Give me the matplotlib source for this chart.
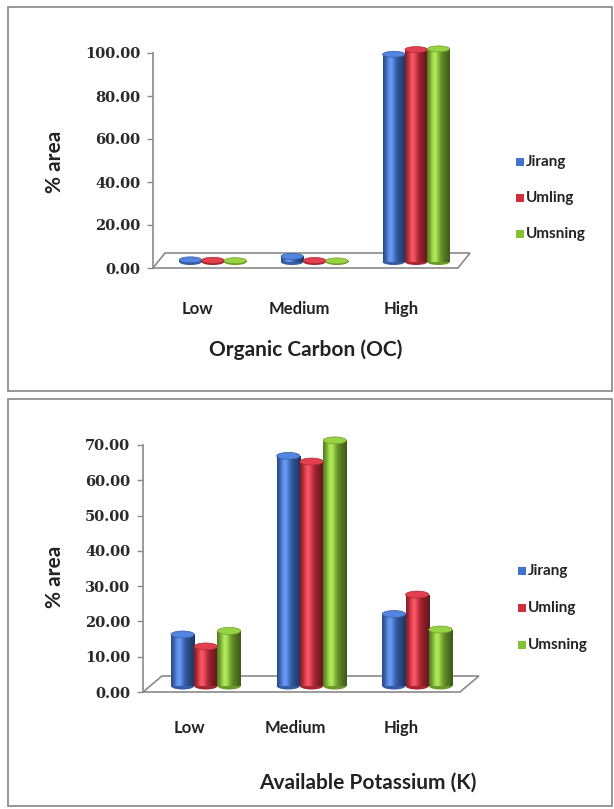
import numpy as np
import matplotlib
matplotlib.use("Agg")
import matplotlib.pyplot as plt
from matplotlib.patches import Rectangle, Ellipse, Polygon
from matplotlib.transforms import ScaledTranslation

# ---------------- data ----------------
categories = ["Low", "Medium", "High"]
series_names = ["Jirang", "Umling", "Umsning"]
oc_jirang = [1.0, 2.6, 96.6]
oc_umling = [0.8, 0.7, 98.8]
oc_umsning = [0.6, 0.5, 99.1]
k_jirang = [14.6, 65.2, 20.4]
k_umling = [11.2, 63.6, 25.9]
k_umsning = [15.6, 69.6, 16.0]
oc_yticks = [0, 20, 40, 60, 80, 100]
k_yticks = [0, 10, 20, 30, 40, 50, 60, 70]
oc_title = "Organic Carbon (OC)"
k_title = "Available Potassium (K)"
ylabel = "% area"

colors = [np.array([66, 114, 204]) / 255.0,
          np.array([208, 48, 62]) / 255.0,
          np.array([134, 192, 52]) / 255.0]

W, H = 614, 809
fig = plt.figure(figsize=(W / 100, H / 100), dpi=100)
fig.patch.set_facecolor("white")

SANS = "Lato"
SERIF = "DejaVu Serif"


def fx(x):
    return x / W


def fy(y):
    return 1 - y / H


# panel borders
for (x0, y0, x1, y1) in [(8, 7, 612, 391), (8, 399, 612, 806)]:
    fig.patches.append(Rectangle((fx(x0), fy(y1)), fx(x1) - fx(x0), fy(y0) - fy(y1),
                                 transform=fig.transFigure, fill=False,
                                 edgecolor="#8f8f8f", lw=1.3))


def gradient(c, n=64):
    t = np.linspace(0, 1, n)
    g = np.exp(-((t - 0.33) / 0.28) ** 2)
    edge = 1 - 0.32 * (np.abs(t - 0.42) / 0.58) ** 2
    rgb = c[None, :] * (0.68 + 0.36 * g[:, None]) * edge[:, None] + 0.14 * (g[:, None] ** 3)
    return np.clip(rgb, 0, 1)[None, :, :]


def panel(ax_px, yticks, data, ylim, floor_d, shift, cap_px, tick_pad_px,
          title, title_xy, ylab_xy, legend_xy, leg_space):
    left, right, ytop, ybot = ax_px
    ax = fig.add_axes([fx(left), fy(ybot), fx(right) - fx(left), fy(ytop) - fy(ybot)])
    ax.set_facecolor("none")
    n = len(categories)
    ax.set_xlim(-0.5, n - 0.5)
    ax.set_ylim(*ylim)
    for s in ["top", "right", "bottom"]:
        ax.spines[s].set_visible(False)
    ax.spines["left"].set_color("#8a8a8a")
    ax.spines["left"].set_linewidth(1.2)
    ax.set_yticks(yticks)
    ax.set_yticklabels(["%.2f" % v for v in yticks], fontfamily=SERIF,
                       fontweight="bold", fontsize=10.5, color="#2a2a2a")
    ax.tick_params(axis="y", direction="out", length=4, width=1, color="#8a8a8a", pad=5)
    ax.set_xticks(np.arange(n))
    ax.set_xticklabels(categories, fontfamily=SANS, fontweight="bold",
                       fontsize=12, color="#222222")
    ax.tick_params(axis="x", length=0, pad=tick_pad_px * 0.72)
    for lab in ax.get_xticklabels():
        lab.set_transform(lab.get_transform() + ScaledTranslation(-0.06, 0, fig.dpi_scale_trans))

    # floor
    axw = right - left
    axh = ybot - ytop
    dx, dy = floor_d
    floor = Polygon([(0, 0), (1, 0), (1 + dx / axw, dy / axh), (dx / axw, dy / axh)],
                    closed=True, transform=ax.transAxes, facecolor="white",
                    edgecolor="#8a8a8a", lw=1.2, clip_on=False, zorder=0.5)
    ax.add_patch(floor)

    trans = ax.transData + ScaledTranslation(shift[0] / 100, shift[1] / 100, fig.dpi_scale_trans)
    upp = (ylim[1] - ylim[0]) / axh  # data units per pixel
    cap_h = cap_px * upp
    w = 0.22
    offs = [-w, 0, w]
    for si, vals in enumerate(data):
        c = colors[si]
        xs = np.arange(n) + offs[si]
        bars = ax.bar(xs, vals, width=w, color=c, transform=trans, zorder=2,
                      linewidth=0, clip_on=False)
        for x, v, rect in zip(xs, vals, bars):
            zb = 2 + si * 0.01 + x * 0.001
            rect.set_zorder(zb)
            bot = Ellipse((x, 0), w, cap_h, transform=trans, facecolor=c * 0.8,
                          edgecolor="none", zorder=zb - 0.0005, clip_on=False)
            ax.add_patch(bot)
            im = ax.imshow(gradient(c), extent=(x - w / 2, x + w / 2, 0, v),
                           aspect="auto", transform=trans, zorder=zb + 0.0001,
                           interpolation="bilinear")
            im.set_clip_path(rect)
            top = Ellipse((x, v), w, cap_h, transform=trans,
                          facecolor=np.clip(c * 1.02 + 0.06, 0, 1),
                          edgecolor=c * 0.82, lw=0.5, zorder=zb + 0.0002, clip_on=False)
            ax.add_patch(top)
    ax.set_xlim(-0.5, n - 0.5)
    ax.set_ylim(*ylim)
    ax.set_aspect("auto")

    fig.text(fx(title_xy[0]), fy(title_xy[1]), title, fontfamily=SANS, fontweight="bold",
             fontsize=15, ha="center", va="center", color="#222222")
    fig.text(fx(ylab_xy[0]), fy(ylab_xy[1]), ylabel, fontfamily=SANS, fontweight="bold",
             fontsize=15, ha="center", va="center", rotation=90, color="#222222")
    lx, ly = legend_xy
    for i, name in enumerate(series_names):
        yy = ly + i * leg_space
        fig.patches.append(Rectangle((fx(lx), fy(yy + 4)), 8 / W, 8 / H,
                                     transform=fig.transFigure, facecolor=colors[i],
                                     edgecolor="none"))
        fig.text(fx(lx + 10), fy(yy), name, fontfamily=SANS, fontweight="bold",
                 fontsize=11, ha="left", va="center", color="#222222")
    return ax


panel((153, 458, 53, 268), oc_yticks, [oc_jirang, oc_umling, oc_umsning], (0, 100),
      (12, 15), (9, 6), 6, 33, oc_title, (306, 350), (55, 162), (516, 162), 36)
panel((143, 460, 445, 692), k_yticks, [k_jirang, k_umling, k_umsning], (0, 70),
      (19, 16), (10, 6), 7, 28, k_title, (368, 783), (55, 577), (518, 571), 37)

fig.savefig("out.png", dpi=100, facecolor="white")
